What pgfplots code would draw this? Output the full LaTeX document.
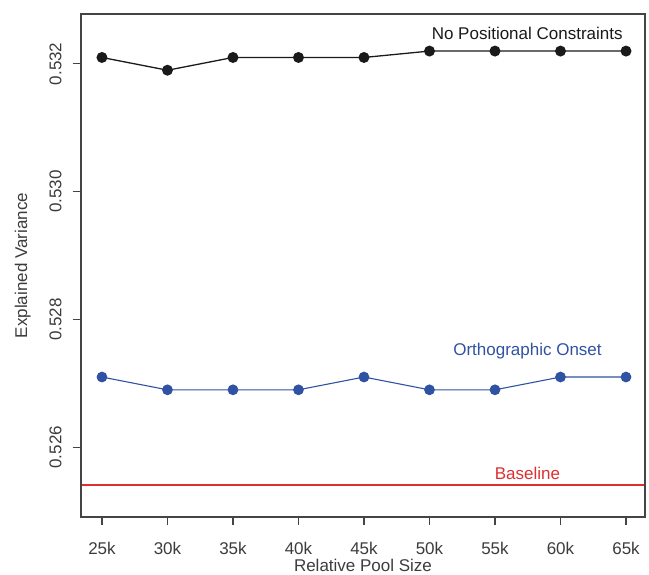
\documentclass[border=0pt]{standalone}
\usepackage{pgfplots}
\pgfplotsset{compat=1.18}
\usepackage{fontspec}
\setmainfont{Liberation Sans}
\definecolor{ptblack}{HTML}{1A1A1A}
\definecolor{ptblue}{HTML}{3052A3}
\definecolor{ptred}{HTML}{DC3030}
\definecolor{boxgray}{HTML}{444444}
\begin{document}
\begin{tikzpicture}
\path[use as bounding box] (0pt,0pt) rectangle (649pt,574pt);
\begin{axis}[
  at={(81pt,57pt)}, anchor=south west,
  scale only axis, width=564pt, height=503pt,
  xmin=23.4, xmax=66.45, ymin=0.52491, ymax=0.53278,
  axis line style={boxgray, line width=1.3pt},
  tick style={boxgray, line width=1.1pt},
  tick align=outside, major tick length=8pt,
  xtick={25,30,...,65},
  xticklabels={25k,30k,35k,40k,45k,50k,55k,60k,65k},
  ytick={0.526,0.528,0.530,0.532},
  yticklabel style={/pgf/number format/fixed, /pgf/number format/precision=3,
    /pgf/number format/fixed zerofill, rotate=90, anchor=south},
  /pgf/number format/assume math mode=true,
  xtick pos=bottom, ytick pos=left,
  tick label style={font=\fontsize{17}{20}\selectfont, text=ptblack!85},
  label style={font=\fontsize{17}{20}\selectfont, text=ptblack!85},
  xlabel={Relative Pool Size}, ylabel={Explained Variance},
  xticklabel shift=14pt, yticklabel shift=8pt,
  xlabel style={yshift=3pt}, ylabel style={yshift=12pt},
  clip=false,
]
\addplot[ptred, line width=1.8pt] coordinates {(23.45,0.525406) (66.4,0.525406)};
\addplot[ptblack, line width=1.3pt, mark=*, mark size=4.8pt] coordinates {
  (25,0.5321) (30,0.5319) (35,0.5321) (40,0.5321) (45,0.5321)
  (50,0.5322) (55,0.5322) (60,0.5322) (65,0.5322)};
\addplot[ptblue, line width=1.1pt, mark=*, mark size=4.8pt] coordinates {
  (25,0.5271) (30,0.5269) (35,0.5269) (40,0.5269) (45,0.5271)
  (50,0.5269) (55,0.5269) (60,0.5271) (65,0.5271)};
\node[font=\fontsize{17}{20}\selectfont, text=ptblack] at (axis cs:57.46,0.53248) {No Positional Constraints};
\node[font=\fontsize{17}{20}\selectfont, text=ptblue] at (axis cs:57.48,0.527505) {Orthographic Onset};
\node[font=\fontsize{17}{20}\selectfont, text=ptred] at (axis cs:57.48,0.525598) {Baseline};
\end{axis}
\end{tikzpicture}
\end{document}
